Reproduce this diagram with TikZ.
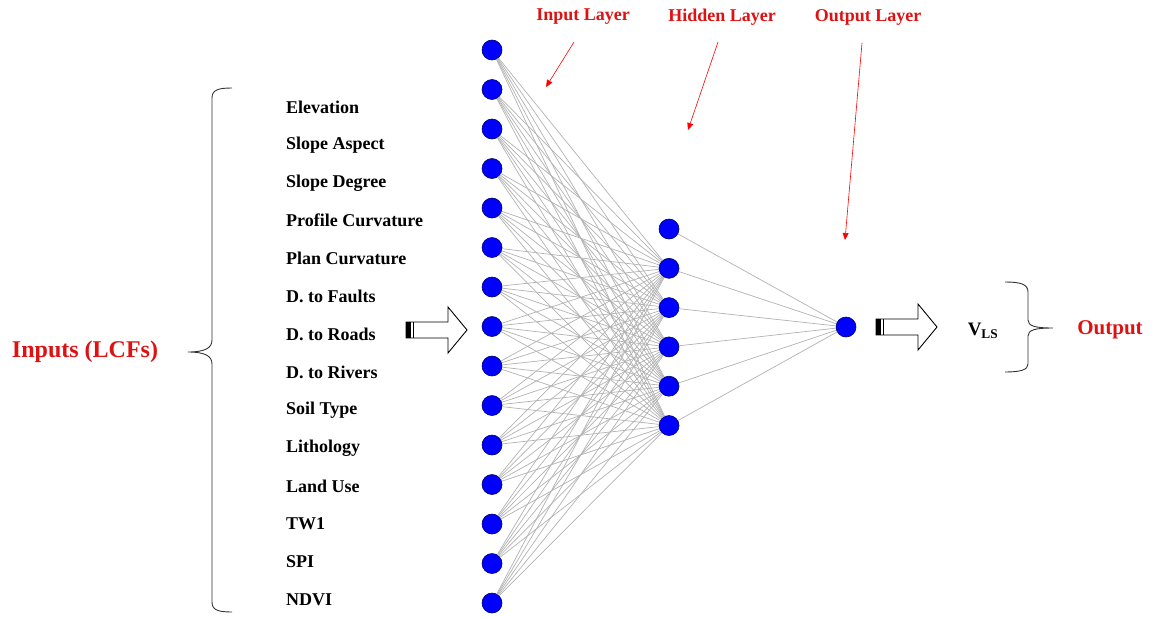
\documentclass[tikz,border=0pt]{standalone}
\usepackage{fontspec}
\setmainfont{Liberation Serif}
\usetikzlibrary{arrows.meta,calc,positioning}
\definecolor{titlered}{RGB}{222,18,18}

\tikzset{
	neuron/.style={circle,fill=blue,draw=blue!40!black,line width=0.6pt,minimum size=20pt,inner sep=0pt},
	synapse/.style={draw=gray!60,line width=0.7pt},
	factor/.style={anchor=west,inner sep=0pt,font=\bfseries\fontsize{18}{21}\selectfont},
	redtitle/.style={text=titlered,inner sep=0pt,font=\bfseries\fontsize{18}{21}\selectfont},
	pointer/.style={draw=red,line width=0.6pt,-{Triangle[length=7pt,width=6pt]}},
	curly/.style={draw=black!80,line width=0.9pt},
	fatarrow/.pic={
		\draw[line width=0.9pt,fill=white] (0,-8) -- (42,-8) -- (42,-23) -- (61,0) -- (42,23) -- (42,8) -- (0,8) -- cycle;
		\fill (0,-8) rectangle (5,8);
		\fill (6.5,-8) rectangle (8,8);
	}
}

\begin{document}
\begin{tikzpicture}[x=1pt,y=-1pt]
	\useasboundingbox (0,0) rectangle (1158,616);
	%%%%% layers
	\foreach \i in {1,...,15}
		\node[neuron] (in\i) at (492, {50+(\i-1)*39.5}) {};
	\foreach \j in {1,...,6}
		\node[neuron] (hid\j) at (669, {229+(\j-1)*39.3}) {};
	\node[neuron] (out) at (846, 327) {};
	%%%%% connections
	\foreach \i in {1,...,15}
		\foreach \j in {2,...,6}
			\draw[synapse] (in\i) -- (hid\j);
	\foreach \j in {1,...,6}
		\draw[synapse] (hid\j) -- (out);
	%%%%% factor names
	\foreach \t [count=\k] in {Elevation,Slope Aspect,Slope Degree,Profile Curvature,Plan Curvature,D. to Faults,D. to Roads,D. to Rivers,Soil Type,Lithology,Land Use,TW1,SPI,NDVI}
		\node[factor] (lcf\k) at (286, {107+(\k-1)*37.9}) {\t};
	%%%%% braces and labels
	\draw[curly] (232,88) .. controls (218,88) and (212,90) .. (212,98) -- (212,340)
		.. controls (212,348) and (205,352) .. (188,352) .. controls (205,352) and (212,356) .. (212,364)
		-- (212,602) .. controls (212,610) and (218,612) .. (232,612);
	\node[redtitle,font=\bfseries\fontsize{24}{28}\selectfont] (inputs) at (85, 352) {Inputs (LCFs)};
	\draw[curly] (1005,282) .. controls (1020,282) and (1028,284) .. (1028,292) -- (1028,320)
		.. controls (1028,326) and (1035,328) .. (1053,328) .. controls (1035,328) and (1028,330) .. (1028,336)
		-- (1028,364) .. controls (1028,370) and (1020,372) .. (1005,372);
	\node[redtitle,font=\bfseries\fontsize{21}{24}\selectfont] (output) at (1110, 330) {Output};
	\node[inner sep=0pt,font=\bfseries\fontsize{19}{22}\selectfont] (vls) at (983, 331) {V\textsubscript{LS}};
	\pic at (406, 330) {fatarrow};
	\pic at (876, 327) {fatarrow};
	%%%%% layer titles
	\node[redtitle] (inl) at (583, 17) {Input Layer};
	\node[redtitle] (hidl) at (722, 17) {Hidden Layer};
	\node[redtitle] (outl) at (868, 17) {Output Layer};
	\coordinate (inA) at (574, 42);   \coordinate (inB) at (546, 87);
	\coordinate (hidA) at (718, 42);  \coordinate (hidB) at (688, 130);
	\coordinate (outA) at (862, 43);  \coordinate (outB) at (845, 240);
	\draw[pointer] (inA) -- (inB);
	\draw[pointer] (hidA) -- (hidB);
	\draw[pointer] (outA) -- (outB);
\end{tikzpicture}
\end{document}
